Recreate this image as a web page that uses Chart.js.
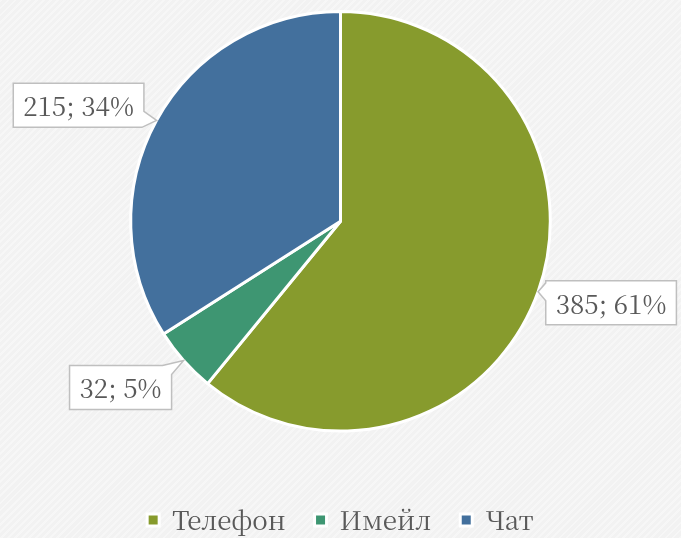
<!DOCTYPE html>
<html>
<head>
<meta charset="utf-8">
<script src="https://cdn.jsdelivr.net/npm/chart.js@4/dist/chart.umd.min.js"></script>
<style>
  html, body { margin: 0; padding: 0; }
  body {
    width: 681px; height: 538px; overflow: hidden;
    background: #f2f2f2 repeating-linear-gradient(135deg, rgba(255,255,255,0.35) 0 2px, rgba(0,0,0,0) 2px 5px);
  }
  #wrap { position: relative; width: 681px; height: 538px; }
</style>
</head>
<body>
<div id="wrap"><canvas id="channelPie"></canvas></div>
<script>
// ─── data ───
const categories = ['Телефон', 'Имейл', 'Чат'];
const counts = [385, 32, 215];
const sliceColors = ['#879b2d', '#3e9672', '#43709d'];

// callout box centre, relative to the rim point at each slice's mid angle
const calloutOffsets = [[73, 11], [-63, 27], [-78, -15]];

const FONT = "'Noto Serif CJK SC'";
const TEXT_GREY = '#595959';

function pct(v) {
  const total = counts.reduce((a, b) => a + b, 0);
  return Math.round(v / total * 100);
}

// rectangle with a wedge pointing at `tip`, walked around its perimeter
function drawCallout(ctx, box, tip) {
  const W = box.r - box.l, H = box.b - box.t, P = 2 * W + 2 * H;
  const at = s => {
    s = ((s % P) + P) % P;
    if (s <= W) return [box.l + s, box.t];
    if (s <= W + H) return [box.r, box.t + s - W];
    if (s <= 2 * W + H) return [box.r - (s - W - H), box.b];
    return [box.l, box.b - (s - 2 * W - H)];
  };
  const px = Math.min(Math.max(tip.x, box.l), box.r);
  const py = Math.min(Math.max(tip.y, box.t), box.b);
  let s0;
  if (py === box.t) s0 = px - box.l;
  else if (px === box.r) s0 = W + (py - box.t);
  else if (py === box.b) s0 = W + H + (box.r - px);
  else s0 = 2 * W + H + (box.b - py);

  const half = 9;
  const start = s0 + half, end = s0 - half + P;
  const corners = [0, W, W + H, 2 * W + H, P, P + W, P + W + H, P + 2 * W + H];
  ctx.beginPath();
  ctx.moveTo(...at(start));
  corners.filter(c => c > start && c < end).forEach(c => ctx.lineTo(...at(c)));
  ctx.lineTo(...at(end));
  ctx.lineTo(tip.x, tip.y);
  ctx.closePath();
  ctx.fillStyle = '#ffffff';
  ctx.fill();
  ctx.strokeStyle = '#bfbfbf';
  ctx.lineWidth = 1.5;
  ctx.stroke();
}

const calloutPlugin = {
  id: 'callouts',
  afterDatasetsDraw(chart) {
    const ctx = chart.ctx;
    const arcs = chart.getDatasetMeta(0).data;
    ctx.save();
    ctx.font = '26px ' + FONT;
    arcs.forEach((arc, i) => {
      const { x, y, startAngle, endAngle, outerRadius } =
        arc.getProps(['x', 'y', 'startAngle', 'endAngle', 'outerRadius'], true);
      const mid = (startAngle + endAngle) / 2;
      const tip = { x: x + Math.cos(mid) * outerRadius, y: y + Math.sin(mid) * outerRadius };
      const text = `${counts[i]}; ${pct(counts[i])}%`;
      const w = ctx.measureText(text).width + 20, h = 44;
      const cx = tip.x + calloutOffsets[i][0], cy = tip.y + calloutOffsets[i][1];
      drawCallout(ctx, { l: cx - w / 2, t: cy - h / 2, r: cx + w / 2, b: cy + h / 2 }, tip);
      ctx.fillStyle = TEXT_GREY;
      ctx.textAlign = 'center';
      ctx.textBaseline = 'middle';
      ctx.fillText(text, cx, cy + 1);
    });
    ctx.restore();
  }
};

new Chart(document.getElementById('channelPie'), {
  type: 'pie',
  data: {
    labels: categories,
    datasets: [{
      data: counts,
      backgroundColor: sliceColors,
      borderColor: '#ffffff',
      borderWidth: 3
    }]
  },
  options: {
    responsive: true,
    maintainAspectRatio: false,
    animation: false,
    layout: { padding: { top: 10, bottom: -5, left: 0, right: 0 } },
    plugins: {
      tooltip: { enabled: false },
      legend: {
        position: 'bottom',
        title: { display: true, text: '', padding: { top: 0, bottom: 31 } },
        labels: {
          boxWidth: 12, boxHeight: 12, padding: 29,
          color: TEXT_GREY,
          font: { family: FONT, size: 26 }
        }
      }
    }
  },
  plugins: [calloutPlugin]
});
</script>
</body>
</html>
